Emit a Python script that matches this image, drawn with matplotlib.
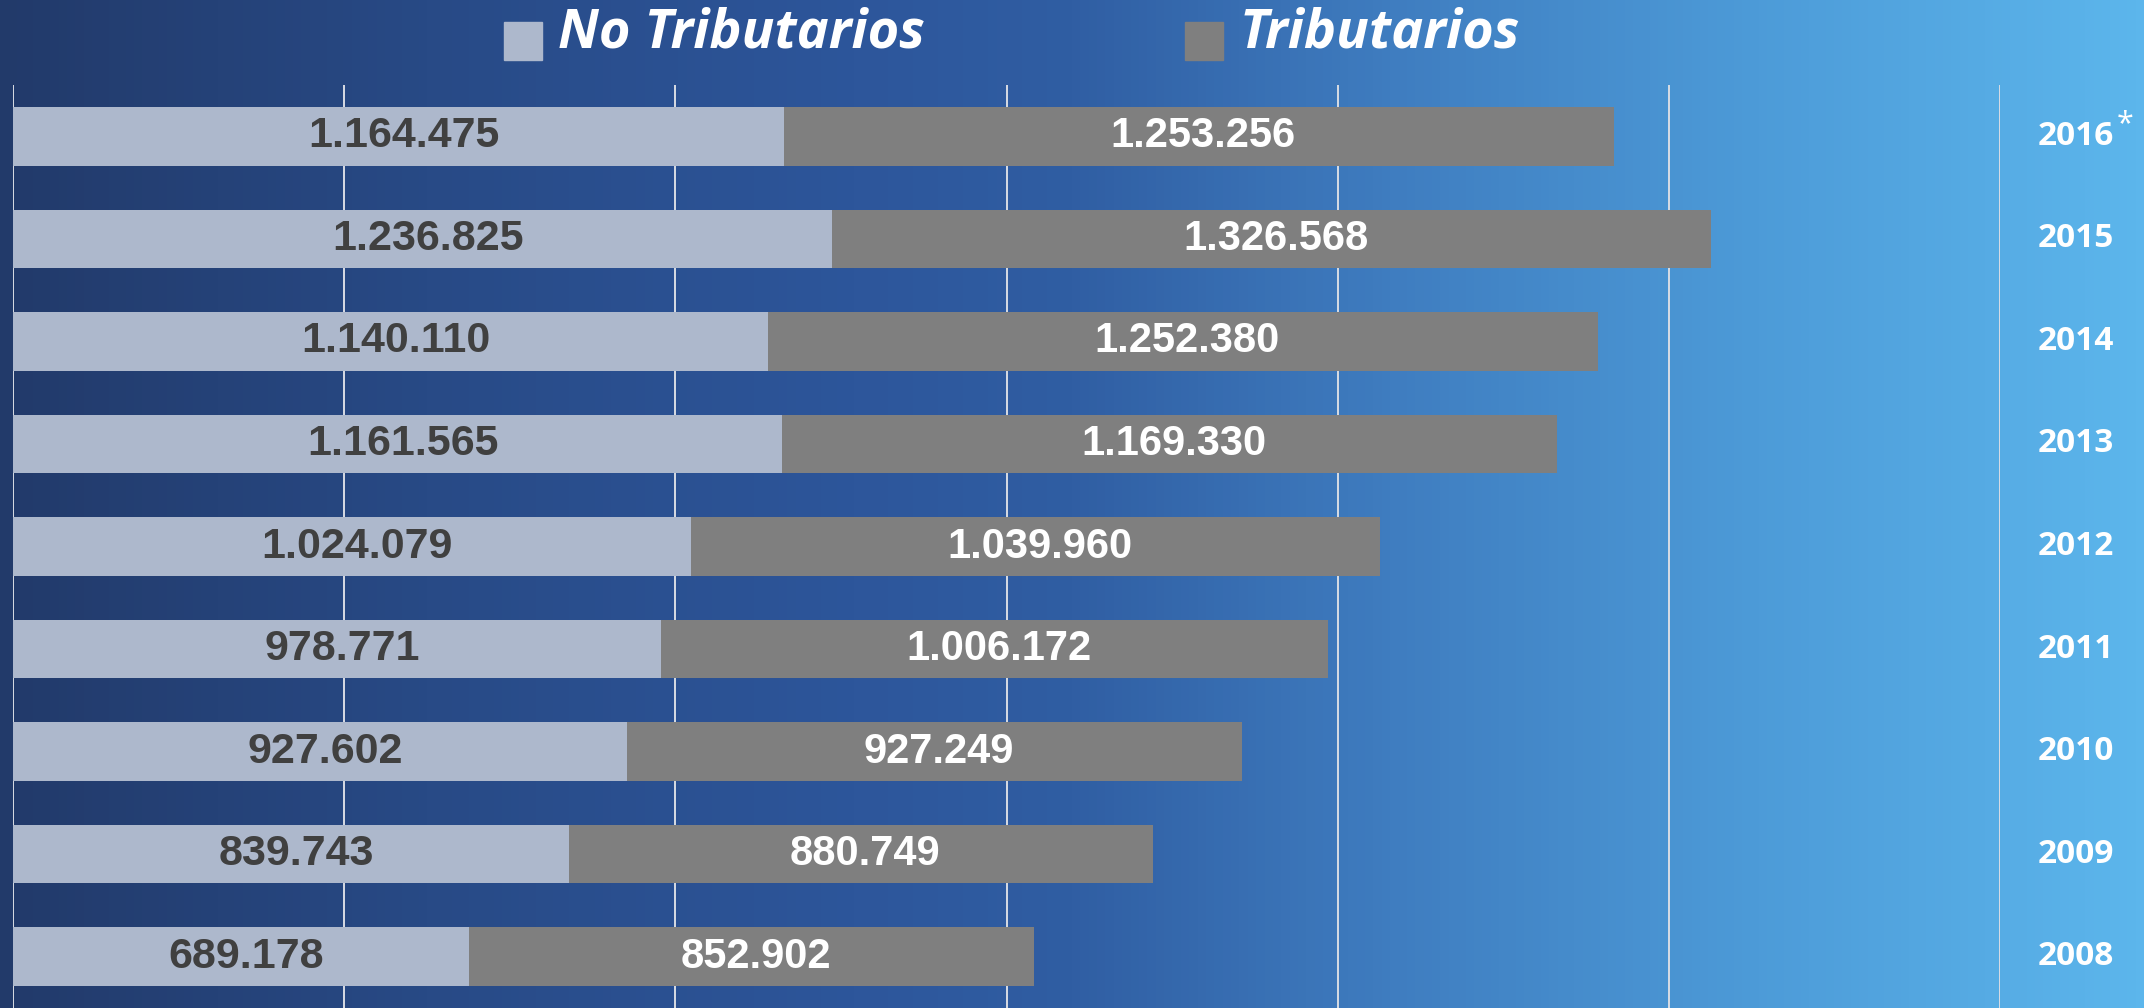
import numpy as np
import matplotlib
matplotlib.use("Agg")
import matplotlib.pyplot as plt
from matplotlib.colors import LinearSegmentedColormap

# Data, top row first
years = ["2016", "2015", "2014", "2013", "2012", "2011", "2010", "2009", "2008"]
no_tributarios = [1164475, 1236825, 1140110, 1161565, 1024079, 978771, 927602, 839743, 689178]
tributarios = [1253256, 1326568, 1252380, 1169330, 1039960, 1006172, 927249, 880749, 852902]
x_ticks = [0, 500000, 1000000, 1500000, 2000000, 2500000, 3000000]


def fmt(v):
    # thousands separated by dots
    return f"{v:,}".replace(",", ".")


W, H = 2144, 1008
fig = plt.figure(figsize=(W / 100, H / 100), dpi=100)

# background gradient over the whole figure
bg = fig.add_axes([0, 0, 1, 1], zorder=0)
cmap = LinearSegmentedColormap.from_list(
    "bg",
    [(0.0, "#223a6a"), (0.2, "#284a86"), (0.4, "#2d569b"), (0.5, "#305ea3"),
     (0.65, "#3f7dc0"), (0.82, "#4d9bd8"), (1.0, "#5cb6ec")],
)
grad = np.linspace(0, 1, 512).reshape(1, -1)
bg.imshow(grad, aspect="auto", cmap=cmap, extent=[0, 1, 0, 1])
bg.axis("off")

# main axes
left, right, top = 13 / W, 2000 / W, 85 / H
ax = fig.add_axes([left, 0, right - left, 1 - top], zorder=1)
ax.patch.set_alpha(0)

pos = np.arange(len(years))[::-1]
light = "#adb8cc"
dark = "#7f7f7f"
h = 0.57
ax.barh(pos, no_tributarios, height=h, color=light, zorder=2)
ax.barh(pos, tributarios, left=no_tributarios, height=h, color=dark, zorder=2)

px = 1511  # data units per pixel
for y, a, b, yr in zip(pos, no_tributarios, tributarios, years):
    ax.text(a / 2 + 5 * px, y, fmt(a), ha="center", va="center", fontsize=31,
            fontweight="bold", color="#404040", family="Liberation Sans", zorder=3)
    ax.text(a + b / 2 + 4 * px, y, fmt(b), ha="center", va="center", fontsize=30,
            fontweight="bold", color="white", family="Liberation Sans", zorder=3)
    ax.text(3000000 + 38 * px, y, yr, ha="left", va="center", fontsize=24,
            fontweight="bold", color="white", family="Open Sans", clip_on=False)

# asterisk on the first year
ax.text(3000000 + 117 * px, pos[0] + 0.12, "*", ha="left", va="center",
        fontsize=22, color="white", family="Open Sans", clip_on=False)

ax.set_xlim(0, 3000000)
ax.set_ylim(-0.5, len(years) - 0.5)
ax.set_xticks(x_ticks)
ax.set_yticks([])
ax.xaxis.grid(True, color="#d8dce4", linewidth=1.4, zorder=1)
ax.set_axisbelow(True)
ax.tick_params(axis="x", length=0, labelbottom=False)
for s in ax.spines.values():
    s.set_visible(False)

# legend drawn by hand at the top
fig.patches.append(plt.Rectangle((504 / W, 1 - 60 / H), 38 / W, 38 / H,
                                 transform=fig.transFigure, color=light, zorder=2))
fig.patches.append(plt.Rectangle((1185 / W, 1 - 60 / H), 38 / W, 38 / H,
                                 transform=fig.transFigure, color=dark, zorder=2))
fig.text(558 / W, 1 - 34 / H, "No Tributarios", ha="left", va="center", fontsize=39,
         fontweight="bold", style="italic", color="white", family="Open Sans", zorder=3)
fig.text(1240 / W, 1 - 34 / H, "Tributarios", ha="left", va="center", fontsize=39,
         fontweight="bold", style="italic", color="white", family="Open Sans", zorder=3)

fig.savefig("out.png", dpi=100)
